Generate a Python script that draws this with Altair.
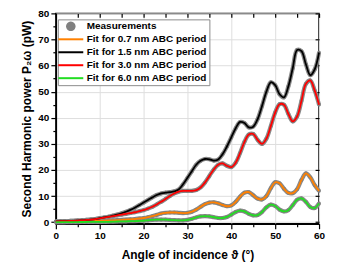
import math
import altair as alt
import pandas as pd

# ---- data ----
angle = list(range(0, 61))

p_07 = [0.0, 0.02, 0.05, 0.1, 0.15, 0.2, 0.25, 0.3, 0.38, 0.45,
        0.5, 0.58, 0.65, 0.72, 0.8, 0.9, 1.0, 1.1, 1.2, 1.4,
        1.6, 1.9, 2.3, 2.8, 3.3, 3.6, 3.7, 3.7, 3.6, 3.5,
        3.6, 4.0, 4.8, 5.9, 6.9, 7.5, 7.6, 7.2, 6.6, 6.1,
        6.4, 7.8, 9.8, 11.3, 11.5, 10.3, 9.0, 8.7, 10.0, 13.0,
        15.3, 14.9, 12.8, 11.2, 11.1, 12.6, 16.2, 18.7, 17.2, 14.2,
        12.0]

p_15 = [0.3, 0.35, 0.4, 0.45, 0.5, 0.6, 0.7, 0.85, 1.0, 1.2,
        1.5, 1.8, 2.1, 2.5, 2.9, 3.4, 4.0, 4.7, 5.5, 6.5,
        7.5, 8.5, 9.5, 10.4, 11.0, 11.3, 11.5, 11.8, 12.5, 14.5,
        17.0, 19.5, 22.0, 23.5, 24.2, 24.1, 23.6, 24.0, 26.0, 29.0,
        32.5, 36.0, 38.4, 38.0, 36.3, 36.6, 39.5, 44.5, 50.0, 53.6,
        52.5, 49.0, 47.8, 52.0, 59.0, 66.0, 65.5, 60.5, 56.3, 58.5,
        65.0]

p_30 = [0.3, 0.35, 0.4, 0.45, 0.5, 0.6, 0.7, 0.85, 1.0, 1.2,
        1.45, 1.7, 2.0, 2.3, 2.6, 2.9, 3.2, 3.5, 3.8, 4.2,
        4.6, 5.2, 5.9, 6.8, 7.8, 8.9, 10.0, 11.0, 11.7, 12.0,
        12.0, 12.0, 12.3, 13.3, 15.2, 17.7, 20.2, 22.0, 22.5, 21.6,
        21.1, 22.8, 26.5, 30.8, 33.6, 33.8, 31.5, 30.0, 32.0, 36.8,
        42.0, 45.2, 45.0, 41.5, 38.6, 40.5, 46.5, 53.0, 54.3, 50.5,
        45.0]

p_60 = [0.0, 0.0, 0.01, 0.02, 0.03, 0.05, 0.06, 0.07, 0.08, 0.09,
        0.1, 0.12, 0.15, 0.2, 0.25, 0.3, 0.33, 0.37, 0.4, 0.47,
        0.55, 0.7, 0.85, 0.95, 1.0, 0.95, 0.85, 0.75, 0.7, 0.7,
        0.9, 1.3, 1.8, 2.2, 2.35, 2.2, 1.9, 1.6, 1.6, 2.0,
        2.9, 3.9, 4.4, 4.1, 3.2, 2.6, 2.7, 3.9, 5.7, 6.7,
        6.2, 4.8, 4.1, 4.6, 6.5, 8.6, 9.1, 7.8, 5.8, 5.4,
        7.2]

labels = ["Measurements",
          "Fit for 0.7 nm ABC period",
          "Fit for 1.5 nm ABC period",
          "Fit for 3.0 nm ABC period",
          "Fit for 6.0 nm ABC period"]
colors = ["#808080", "#ff8000", "#000000", "#ff0000", "#22dd22"]

x_major = list(range(0, 61, 10))
x_minor = list(range(5, 60, 10))
x_top = list(range(0, 61, 5))
y_major = list(range(0, 81, 10))
y_minor = list(range(5, 80, 10))

# ---- tables ----
rows = []
for lab, vals in zip(labels[1:], [p_07, p_15, p_30, p_60]):
    for a, v in zip(angle, vals):
        rows.append({"angle": a, "power": v, "series": lab, "curve": lab})
fit = pd.DataFrame(rows)
meas = fit.assign(series="Measurements")

FONT = "Liberation Sans"
# legend symbol shapes (style only): filled round dot and a thin bar
pts = []
for k in range(24):
    t = 2 * math.pi * k / 24
    pts.append(f"{0.95 * math.cos(t):.3f},{0.95 * math.sin(t):.3f}")
circle_path = "M" + "L".join(pts) + "Z"
bar_path = "M-2.5,-0.2H2.5V0.2H-2.5Z"

xs = alt.Scale(domain=[0, 60], nice=False, zero=False)
ys = alt.Scale(domain=[-0.6, 80], nice=False, zero=False)
cs = alt.Scale(domain=labels, range=colors)
ss = alt.Scale(domain=labels, range=[circle_path] + [bar_path] * 4)

legend = alt.Legend(title=None, orient="none", legendX=2, legendY=6,
                    labelFont=FONT, labelFontSize=10, labelFontWeight="bold",
                    labelColor="black", labelLimit=300,
                    symbolSize=100, symbolStrokeWidth=0, symbolOpacity=1,
                    symbolOffset=6, labelOffset=11, padding=2, rowPadding=3,
                    strokeColor="#8c8c8c", fillColor="white")

main_x = alt.Axis(orient="bottom", values=x_major, title="Angle of incidence ϑ (°)",
                  grid=True, gridColor="#dedede", gridWidth=1,
                  tickSize=5, tickWidth=1.2, tickColor="black",
                  domainColor="black", domainWidth=1.5,
                  labelFontSize=10, labelFontWeight="bold", labelColor="black",
                  labelPadding=2, labelFlush=False,
                  titleFontSize=12, titleFontWeight="bold", titleColor="black",
                  titleX=132, titleY=25.5)
main_y = alt.Axis(orient="left", values=y_major, title="Second Harmonic power P₂ω (pW)",
                  grid=True, gridColor="#dedede", gridWidth=1,
                  tickSize=5, tickWidth=1.2, tickColor="black",
                  domainColor="black", domainWidth=1.5,
                  labelFontSize=10, labelFontWeight="bold", labelColor="black",
                  labelPadding=2, labelFlush=False,
                  titleFontSize=12, titleFontWeight="bold", titleColor="black",
                  titleX=-22.7, titleY=105.5)

halo = alt.Chart(meas).mark_line(color="#8a8a8a", strokeWidth=4.2,
                                 interpolate="catmull-rom").encode(
    x=alt.X("angle:Q", scale=xs, axis=main_x),
    y=alt.Y("power:Q", scale=ys, axis=main_y),
    detail="curve:N",
)

dots = alt.Chart(meas).mark_point(filled=True, size=16, opacity=1).encode(
    x=alt.X("angle:Q", scale=xs, axis=None),
    y=alt.Y("power:Q", scale=ys, axis=None),
    color=alt.Color("series:N", scale=cs, legend=legend),
    shape=alt.Shape("series:N", scale=ss, legend=legend),
)

fits = alt.Chart(fit).mark_line(strokeWidth=1.8, interpolate="catmull-rom").encode(
    x=alt.X("angle:Q", scale=xs, axis=None),
    y=alt.Y("power:Q", scale=ys, axis=None),
    color=alt.Color("series:N", scale=cs, legend=None),
    detail="curve:N",
)

minor = alt.Chart(fit).mark_point(opacity=0).encode(
    x=alt.X("angle:Q", scale=xs,
            axis=alt.Axis(orient="bottom", values=x_minor, title=None, labels=False,
                          grid=False, domain=False, tickSize=3, tickWidth=1.2,
                          tickColor="black")),
    y=alt.Y("power:Q", scale=ys,
            axis=alt.Axis(orient="left", values=y_minor, title=None, labels=False,
                          grid=False, domain=False, tickSize=3, tickWidth=1.2,
                          tickColor="black")),
)

inner = alt.Chart(fit).mark_point(opacity=0).encode(
    x=alt.X("angle:Q", scale=xs,
            axis=alt.Axis(orient="top", values=x_top, title=None, labels=False,
                          grid=False, domain=False, tickSize=4, offset=-4,
                          tickWidth=1.2, tickColor="black")),
    y=alt.Y("power:Q", scale=ys,
            axis=alt.Axis(orient="right", values=y_major, title=None, labels=False,
                          grid=False, domain=False, tickSize=4, offset=-4,
                          tickWidth=1.2, tickColor="black")),
)

chart = alt.layer(halo, dots, fits, minor, inner).resolve_axis(
    x="independent", y="independent"
).properties(
    width=264, height=211,
    padding={"left": 12, "top": 0, "right": 5, "bottom": 5},
).configure_view(
    stroke="black", strokeWidth=1.5
).configure_axis(
    labelFont=FONT, titleFont=FONT
).configure_legend(
    labelFont=FONT
)

chart.save("out.html", embed_options={"renderer": "svg", "actions": False})
